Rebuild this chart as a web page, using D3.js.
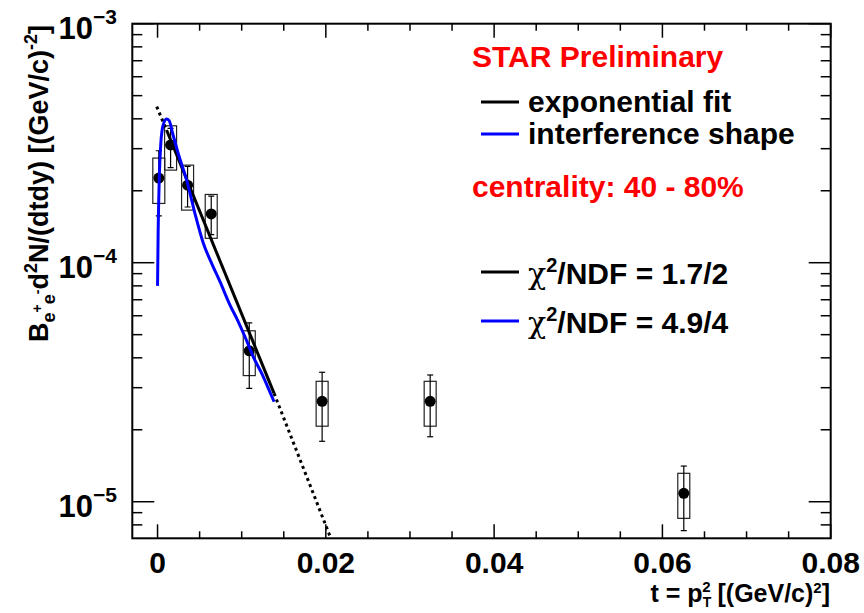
<!DOCTYPE html>
<html><head><meta charset="utf-8">
<script src="https://cdn.jsdelivr.net/npm/d3@7"></script>
<style>
html,body{margin:0;padding:0;background:#fff;}
text{font-family:"Liberation Sans",Arial,Helvetica,sans-serif;font-weight:bold;}
</style></head>
<body><svg id="c" width="864" height="613"></svg>
<script>
// ---- data ----
const tValues = [0.00015, 0.00155, 0.00357, 0.00638, 0.0109, 0.01956, 0.0324, 0.06254];
const yValues = [2.26e-4, 3.11e-4, 2.11e-4, 1.60e-4, 4.28e-5, 2.63e-5, 2.63e-5, 1.084e-5];
const statLow  = [1.57e-4, 2.50e-4, 1.71e-4, 1.31e-4, 2.98e-5, 1.79e-5, 1.87e-5, 7.57e-6];
const statHigh = [2.94e-4, 3.65e-4, 2.53e-4, 1.90e-4, 5.60e-5, 3.48e-5, 3.39e-5, 1.41e-5];
const sysLow   = [1.77e-4, 2.44e-4, 1.66e-4, 1.265e-4, 3.37e-5, 2.07e-5, 2.07e-5, 8.52e-6];
const sysHigh  = [2.74e-4, 3.74e-4, 2.56e-4, 1.93e-4, 5.19e-5, 3.19e-5, 3.19e-5, 1.315e-5];

const fitSolidT = [0.00107, 0.01385];
const fitSolidY = [3.59e-4, 2.84e-5];
const fitDotLowT = [-0.0001, 0.00107];
const fitDotLowY = [4.50e-4, 3.59e-4];
const fitDotHighT = [0.01385, 0.0212];
const fitDotHighY = [2.84e-5, 6.2e-6];

const interfT = [0.0, 0.00007, 0.00019, 0.00039, 0.00067, 0.00107, 0.00138, 0.00179, 0.00245, 0.00345, 0.00444, 0.00543, 0.00643, 0.00742, 0.00861, 0.0096, 0.01039, 0.01138, 0.01238, 0.01317, 0.01385];
const interfY = [8.0e-5, 1.33e-4, 2.15e-4, 3.16e-4, 3.77e-4, 3.99e-4, 3.93e-4, 3.48e-4, 2.87e-4, 2.22e-4, 1.61e-4, 1.21e-4, 9.94e-5, 8.33e-5, 6.65e-5, 5.66e-5, 4.90e-5, 4.04e-5, 3.44e-5, 2.98e-5, 2.62e-5];

const xTickLabels = ["0", "0.02", "0.04", "0.06", "0.08"];
const xTickValues = [0, 0.02, 0.04, 0.06, 0.08];
const yTickValues = [1e-5, 1e-4, 1e-3];
const yTickExps = ["\u22125", "\u22124", "\u22123"];

const legendTitle = "STAR Preliminary";
const legendItems = ["exponential fit", "interference shape"];
const centralityText = "centrality: 40 - 80%";
const chiValues = ["1.7/2", "4.9/4"];
const seriesColors = ["#000000", "#0000ff"];

// ---- layout ----
const svg = d3.select("#c");
const L = 132.3, R = 830.7, T = 23.7, B = 538.3;
const x = d3.scaleLinear().domain([-0.003, 0.08]).range([L, R]);
const y = d3.scaleLog().domain([7.03e-6, 1e-3]).range([B, T]);

svg.append("defs").append("clipPath").attr("id","clip")
  .append("rect").attr("x",L).attr("y",T).attr("width",R-L).attr("height",B-T);

// frame
svg.append("rect").attr("x",L).attr("y",T).attr("width",R-L).attr("height",B-T)
  .attr("fill","none").attr("stroke","#000").attr("stroke-width",2);

// x ticks
const xt = x.ticks(16).filter(v => v >= 0);
xt.forEach(v => {
  const major = xTickValues.some(m => Math.abs(m - v) < 1e-9);
  const len = major ? 14 : 7;
  svg.append("line").attr("x1",x(v)).attr("x2",x(v)).attr("y1",B).attr("y2",B-len).attr("stroke","#000").attr("stroke-width",1.5);
  svg.append("line").attr("x1",x(v)).attr("x2",x(v)).attr("y1",T).attr("y2",T+len).attr("stroke","#000").attr("stroke-width",1.5);
});
xTickValues.forEach((v,i) => {
  svg.append("text").attr("x",x(v)).attr("y",573).attr("text-anchor","middle")
    .attr("font-size",30).text(xTickLabels[i]);
});

// y ticks
const yt = y.ticks().filter(v => v >= y.domain()[0] && v <= y.domain()[1]);
yt.forEach(v => {
  const major = yTickValues.some(m => Math.abs(m - v)/m < 1e-6);
  const len = major ? 22 : 10;
  svg.append("line").attr("x1",L).attr("x2",L+len).attr("y1",y(v)).attr("y2",y(v)).attr("stroke","#000").attr("stroke-width",1.5);
  svg.append("line").attr("x1",R).attr("x2",R-len).attr("y1",y(v)).attr("y2",y(v)).attr("stroke","#000").attr("stroke-width",1.5);
});
yTickValues.forEach((v,i) => {
  const t = svg.append("text").attr("x",117).attr("y",y(v)+15.5).attr("text-anchor","end").attr("font-size",31);
  t.append("tspan").text("10");
  t.append("tspan").attr("dy",-15).attr("font-size",21).text(yTickExps[i]);
});

// axis titles
const xtitle = svg.append("text").attr("x",830).attr("y",602).attr("text-anchor","end").attr("font-size",25);
xtitle.append("tspan").text("t = p");
xtitle.append("tspan").attr("font-size",14).attr("dy",5).text("T");
xtitle.append("tspan").attr("font-size",15).attr("dx",-9).attr("dy",-15).text("2");
xtitle.append("tspan").attr("dy",10).text(" [(GeV/c)");
xtitle.append("tspan").attr("font-size",15).attr("dy",-9).text("2");
xtitle.append("tspan").attr("dy",9).text("]");

const ytitle = svg.append("text").attr("transform","translate(48,25) rotate(-90)")
  .attr("text-anchor","end").attr("font-size",27);
ytitle.append("tspan").text("B");
ytitle.append("tspan").attr("font-size",18).attr("dy",7).text("e");
ytitle.append("tspan").attr("font-size",14).attr("dy",-13).text("+");
ytitle.append("tspan").attr("font-size",18).attr("dy",13).text("e");
ytitle.append("tspan").attr("font-size",14).attr("dy",-13).text("-");
ytitle.append("tspan").attr("dy",6).text("d");
ytitle.append("tspan").attr("font-size",18).attr("dy",-11).text("2");
ytitle.append("tspan").attr("dy",11).text("N/(dtdy) [(GeV/c)");
ytitle.append("tspan").attr("font-size",18).attr("dy",-11).text("-2");
ytitle.append("tspan").attr("dy",11).text("]");

// data group
const g = svg.append("g").attr("clip-path","url(#clip)");
const idx = d3.range(tValues.length);
// systematic boxes
g.selectAll("rect.sys").data(idx).join("rect").attr("class","sys")
  .attr("x", i => x(tValues[i]) - 6).attr("width", 12)
  .attr("y", i => y(sysHigh[i])).attr("height", i => y(sysLow[i]) - y(sysHigh[i]))
  .attr("fill","none").attr("stroke","#222").attr("stroke-width",1.2);
// stat error bars
g.selectAll("line.stat").data(idx).join("line").attr("class","stat")
  .attr("x1", i => x(tValues[i])).attr("x2", i => x(tValues[i]))
  .attr("y1", i => y(statHigh[i])).attr("y2", i => y(statLow[i]))
  .attr("stroke","#000").attr("stroke-width",1.2);
[statHigh, statLow].forEach(arr => {
  g.selectAll(null).data(idx).join("line")
    .attr("x1", i => x(tValues[i]) - 3).attr("x2", i => x(tValues[i]) + 3)
    .attr("y1", i => y(arr[i])).attr("y2", i => y(arr[i]))
    .attr("stroke","#000").attr("stroke-width",1.2);
});
g.selectAll("circle").data(idx).join("circle")
  .attr("cx", i => x(tValues[i])).attr("cy", i => y(yValues[i])).attr("r",5.5).attr("fill","#000");

// fit lines
const line = d3.line().x(d => x(d[0])).y(d => y(d[1]));
const zip = (a,b) => a.map((v,i) => [v,b[i]]);
g.append("path").attr("d", line(zip(fitDotLowT, fitDotLowY))).attr("fill","none")
  .attr("stroke","#000").attr("stroke-width",3).attr("stroke-dasharray","3,3.5");
g.append("path").attr("d", line(zip(fitDotHighT, fitDotHighY))).attr("fill","none")
  .attr("stroke","#000").attr("stroke-width",3).attr("stroke-dasharray","3,3.5");
g.append("path").attr("d", line(zip(fitSolidT, fitSolidY))).attr("fill","none")
  .attr("stroke",seriesColors[0]).attr("stroke-width",3);
const curve = d3.line().x(d => x(d[0])).y(d => y(d[1])).curve(d3.curveMonotoneX);
g.append("path").attr("d", curve(zip(interfT, interfY))).attr("fill","none")
  .attr("stroke",seriesColors[1]).attr("stroke-width",3);

// legend
svg.append("text").attr("x",472).attr("y",67).attr("fill","#ff0000").attr("font-size",30).text(legendTitle);
const legY = [102, 134];
legendItems.forEach((s,i) => {
  svg.append("line").attr("x1",481).attr("x2",519).attr("y1",legY[i]).attr("y2",legY[i])
    .attr("stroke",seriesColors[i]).attr("stroke-width",3);
  svg.append("text").attr("x",528).attr("y",legY[i]+10).attr("font-size",30).text(s);
});
svg.append("text").attr("x",472).attr("y",197).attr("fill","#ff0000").attr("font-size",30).text(centralityText);
const chiY = [272, 321];
chiValues.forEach((s,i) => {
  svg.append("line").attr("x1",481).attr("x2",519).attr("y1",chiY[i]).attr("y2",chiY[i])
    .attr("stroke",seriesColors[i]).attr("stroke-width",3);
  const t = svg.append("text").attr("x",528).attr("y",chiY[i]+12).attr("font-size",30);
  t.append("tspan").attr("font-family","'DejaVu Serif',serif").attr("font-weight","normal").text("\u03c7");
  t.append("tspan").attr("font-size",20).attr("dy",-12).text("2");
  t.append("tspan").attr("dy",12).text("/NDF = " + s);
});
</script></body></html>
